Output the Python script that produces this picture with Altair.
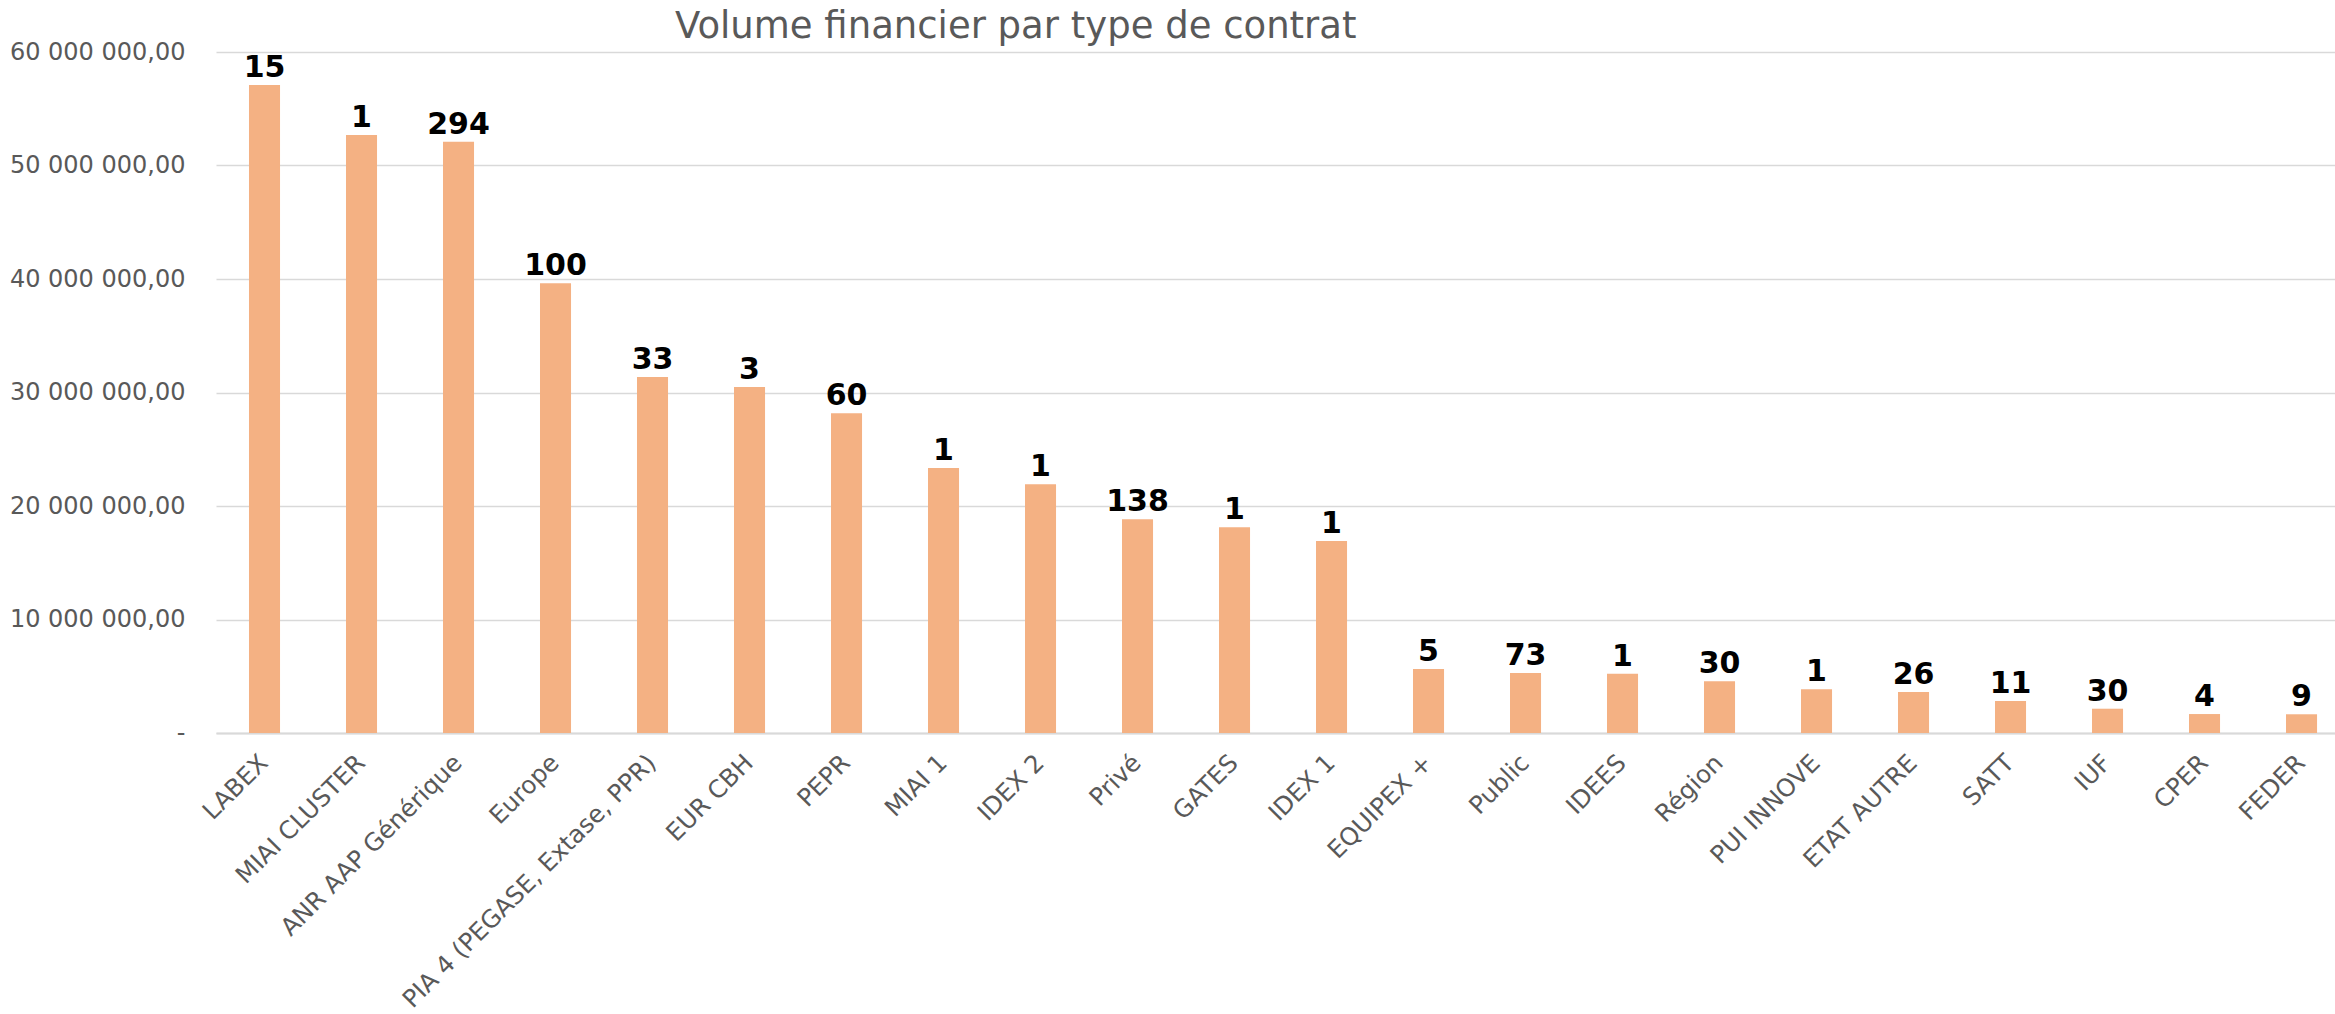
import altair as alt
import pandas as pd

categories = ["LABEX", "MIAI CLUSTER", "ANR AAP Générique", "Europe",
              "PIA 4 (PEGASE, Extase, PPR)", "EUR CBH", "PEPR", "MIAI 1",
              "IDEX 2", "Privé", "GATES", "IDEX 1", "EQUIPEX +", "Public",
              "IDEES", "Région", "PUI INNOVE", "ETAT AUTRE", "SATT", "IUF",
              "CPER", "FEDER"]
volumes = [57090000, 52690000, 52100000, 39620000, 31370000, 30480000,
           28170000, 23350000, 21910000, 18830000, 18120000, 16920000,
           5640000, 5290000, 5230000, 4550000, 3850000, 3610000,
           2820000, 2140000, 1670000, 1650000]
counts = [15, 1, 294, 100, 33, 3, 60, 1, 1, 138, 1, 1, 5, 73, 1, 30, 1, 26,
          11, 30, 4, 9]
y_ticks = [0, 10000000, 20000000, 30000000, 40000000, 50000000, 60000000]

df = pd.DataFrame({"type": categories, "volume": volumes, "n": counts})

FONT = "DejaVu Sans"
GREY = "#595959"

x = alt.X("type:N", sort=categories, title=None,
          scale=alt.Scale(paddingInner=0.68, paddingOuter=0.2626,
                          align=0.6476, round=False),
          axis=alt.Axis(labelAngle=-45, labelAlign="right",
                        labelBaseline="middle", labelPadding=26,
                        labelFontSize=24.5, labelColor=GREY, labelFont=FONT,
                        ticks=False, domain=True, domainColor="#D9D9D9",
                        domainWidth=2, grid=False, labelOverlap=False,
                        labelLimit=0))
y = alt.Y("volume:Q", title=None,
          scale=alt.Scale(domain=[0, 60000000], nice=False, zero=True),
          axis=alt.Axis(values=y_ticks, format=",.2f",
                        labelExpr="datum.value == 0 ? '-\u00a0\u00a0\u00a0' : datum.label",
                        labelFontSize=24, labelColor=GREY, labelFont=FONT,
                        labelPadding=31, ticks=False, domain=False,
                        grid=True, gridColor="#D9D9D9", gridWidth=1.5))

bars = alt.Chart(df).mark_bar(color="#F4B183").encode(x=x, y=y)

labels = alt.Chart(df).mark_text(
    baseline="alphabetic", dy=-8, fontSize=30, fontWeight="bold",
    color="black", font=FONT
).encode(x=alt.X("type:N", sort=categories), y="volume:Q", text="n:Q")

chart = alt.layer(bars, labels).properties(
    width=2119, height=681,
    autosize=alt.AutoSizeParams(type="none"),
    padding={"left": 216, "top": 52, "right": 0, "bottom": 281},
    title=alt.TitleParams(
        "Volume financier par type de contrat", anchor="start", frame="group",
        dx=459, fontSize=37, font=FONT, fontWeight="normal", color=GREY,
        baseline="alphabetic", offset=-35),
).configure(
    locale={"number": {"decimal": ",", "thousands": "\u00a0",
                       "grouping": [3], "currency": ["", " €"]}}
).configure_view(stroke=None)

chart.save("out.html", embed_options={"renderer": "svg", "actions": False})
